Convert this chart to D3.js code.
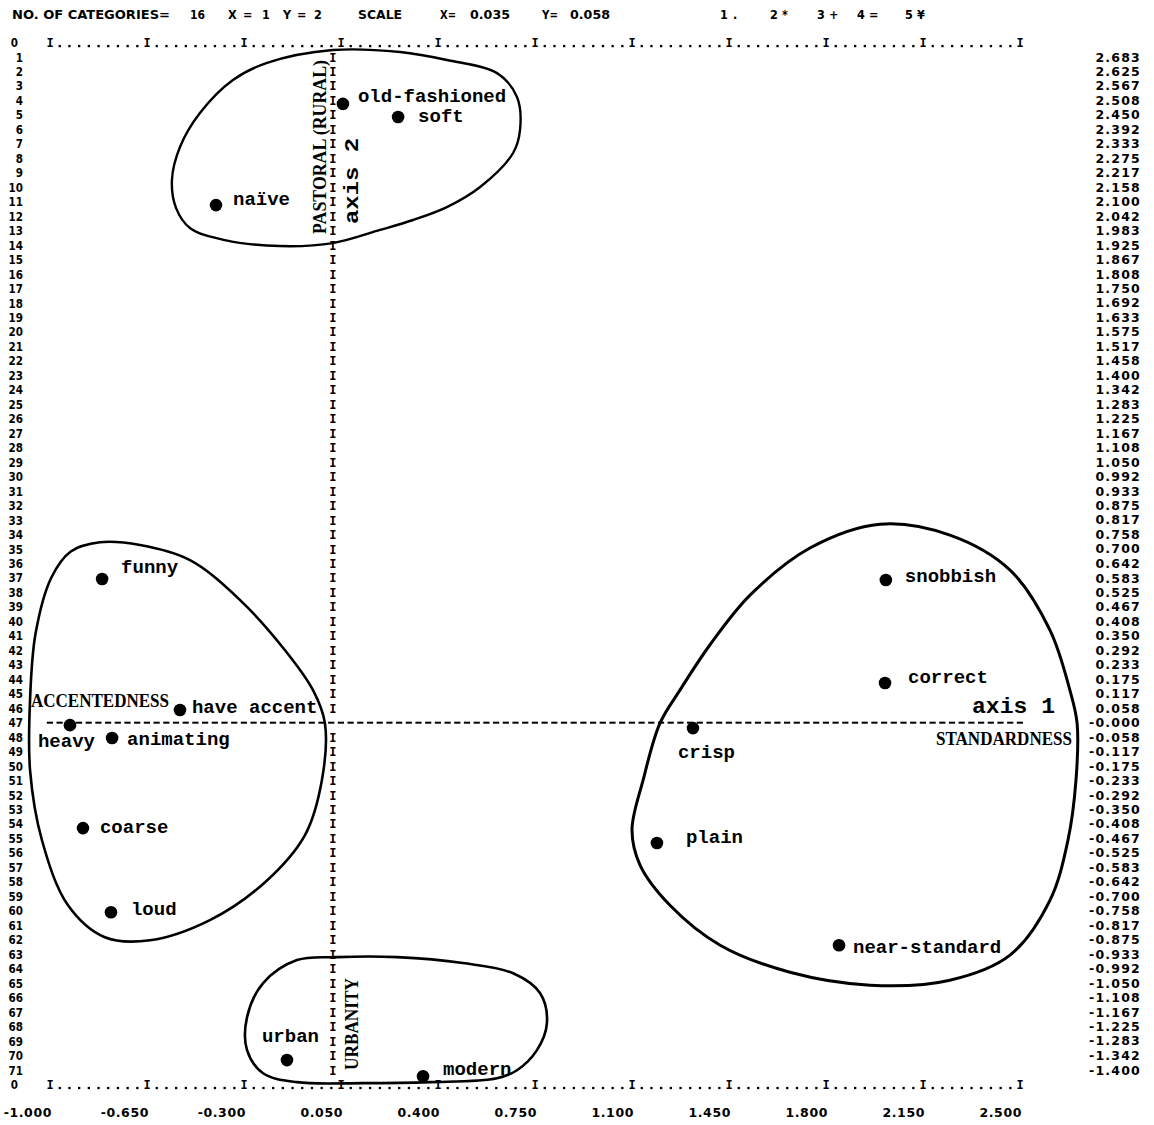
<!DOCTYPE html>
<html><head><meta charset="utf-8">
<script src="https://cdn.jsdelivr.net/npm/d3@7"></script>
<style>body{margin:0;background:#fff}svg{display:block}</style>
</head><body>
<svg id="chart" width="1154" height="1125"></svg>
<script>
// ---------- data ----------
const categories = ["old-fashioned","soft","naïve","funny","have accent","heavy","animating","coarse","loud","urban","modern","crisp","plain","snobbish","correct","near-standard"];
const axis1Values = [0.057,0.256,-0.401,-0.812,-0.531,-0.928,-0.776,-0.881,-0.780,-0.145,0.346,1.320,1.190,2.016,2.013,1.847];
const axis2Values = [2.494,2.441,2.086,0.579,0.051,-0.010,-0.062,-0.425,-0.764,-1.360,-1.425,-0.022,-0.485,0.575,0.160,-0.897];

const xTickValues = [-1.0,-0.65,-0.3,0.05,0.4,0.75,1.1,1.45,1.8,2.15,2.5];
const xTickLabels = ["-1.000","-0.650","-0.300","0.050","0.400","0.750","1.100","1.450","1.800","2.150","2.500"];
const yTickLabels = ["2.683","2.625","2.567","2.508","2.450","2.392","2.333","2.275","2.217","2.158","2.100","2.042","1.983","1.925","1.867","1.808","1.750","1.692","1.633","1.575","1.517","1.458","1.400","1.342","1.283","1.225","1.167","1.108","1.050","0.992","0.933","0.875","0.817","0.758","0.700","0.642","0.583","0.525","0.467","0.408","0.350","0.292","0.233","0.175","0.117","0.058","-0.000","-0.058","-0.117","-0.175","-0.233","-0.292","-0.350","-0.408","-0.467","-0.525","-0.583","-0.642","-0.700","-0.758","-0.817","-0.875","-0.933","-0.992","-1.050","-1.108","-1.167","-1.225","-1.283","-1.342","-1.400"];

const headerTokens = ["NO. OF CATEGORIES=","16","X","=","1","Y","=","2","SCALE","X=","0.035","Y=","0.058","1",".","2","*","3","+","4","=","5","¥"];
const clusterNames = ["PASTORAL (RURAL)","ACCENTEDNESS","URBANITY","STANDARDNESS"];
const axisNames = ["axis 1","axis 2"];

// hand-drawn cluster outlines (axis1, axis2 units)
const pastoralOutline = [[0.021,2.711],[0.263,2.703],[0.432,2.671],[0.613,2.618],[0.685,2.522],[0.696,2.389],[0.671,2.296],[0.552,2.159],[0.432,2.078],[0.310,2.026],[0.191,1.986],[0.021,1.933],[-0.170,1.921],[-0.369,1.945],[-0.495,1.994],[-0.545,2.074],[-0.560,2.187],[-0.531,2.320],[-0.459,2.457],[-0.340,2.590],[-0.217,2.659]];
const accentOutline = [[-0.820,0.727],[-0.675,0.716],[-0.495,0.655],[-0.314,0.494],[-0.152,0.292],[-0.051,0.131],[-0.008,-0.002],[-0.019,-0.232],[-0.080,-0.453],[-0.224,-0.643],[-0.423,-0.796],[-0.639,-0.877],[-0.802,-0.865],[-0.935,-0.736],[-1.029,-0.474],[-1.072,-0.191],[-1.072,0.091],[-1.052,0.360],[-0.995,0.585],[-0.925,0.690]];
const urbanOutline = [[0.036,-0.945],[0.252,-0.945],[0.490,-0.969],[0.671,-1.010],[0.768,-1.090],[0.793,-1.211],[0.757,-1.320],[0.685,-1.401],[0.613,-1.433],[0.371,-1.449],[0.129,-1.453],[-0.109,-1.449],[-0.231,-1.413],[-0.289,-1.320],[-0.289,-1.187],[-0.231,-1.050],[-0.109,-0.957]];
const standardOutline = [[1.995,0.800],[2.247,0.756],[2.464,0.615],[2.608,0.373],[2.680,0.131],[2.706,-0.002],[2.702,-0.232],[2.673,-0.474],[2.608,-0.716],[2.464,-0.937],[2.247,-1.038],[1.959,-1.058],[1.670,-1.006],[1.418,-0.897],[1.237,-0.736],[1.129,-0.574],[1.100,-0.433],[1.140,-0.232],[1.201,-0.002],[1.273,0.131],[1.381,0.313],[1.526,0.514],[1.742,0.704]];

// ---------- layout (not data) ----------
const headerX = [12,190,228,243,262,283,297,314,358,440,470,542,570,720,733,770,782,817,829,857,869,905,917];
const headerW = {0:158,1:15,8:44,9:16,10:40,11:16,12:40};
const labelOffsets = {"old-fashioned":[15,-2],"soft":[20,5],"naïve":[17,0],"funny":[19,-6],"have accent":[12,3],"heavy":[-32,22],"animating":[15,7],"coarse":[17,5],"loud":[20,3],"urban":[-25,-18],"modern":[20,-1],"crisp":[-15,30],"plain":[29,0],"snobbish":[19,2],"correct":[23,0],"near-standard":[14,8]};

const svg = d3.select("#chart");
svg.append("rect").attr("width",1154).attr("height",1125).attr("fill","#fff");

const x = d3.scaleLinear().domain([-1.0, 2.5]).range([50, 1020]);
const y = d3.scaleLinear().domain([2.683, -1.400]).range([57, 1070]);
const rowStep = (2.683 + 1.400) / 70;
const colStep = 0.035;
const rowY = r => y(2.683 - (r - 1) * rowStep);
const colX = c => x(-1 + c * colStep);

const printFont = "'DejaVu Sans Condensed','DejaVu Sans',sans-serif";
const monoFont = "'Liberation Mono','Courier New',monospace";
const serifFont = "'Liberation Serif','Times New Roman',serif";

// header
svg.append("g").selectAll("text").data(headerTokens).join("text")
  .attr("x",(d,i)=>headerX[i]).attr("y",19)
  .attr("font-family",printFont).attr("font-stretch","condensed")
  .attr("font-weight","bold").attr("font-size",12.5)
  .each(function(d,i){ if(headerW[i]) d3.select(this).attr("textLength",headerW[i]).attr("lengthAdjust","spacingAndGlyphs"); })
  .text(d=>d);

// row numbers (left)
const rows = d3.range(0, 73);
svg.append("g").selectAll("text").data(rows).join("text")
  .attr("x", r => (r===0||r===72) ? 18 : 23)
  .attr("y", r => rowY(r) + 4.5)
  .attr("text-anchor","end")
  .attr("font-family",printFont).attr("font-stretch","condensed")
  .attr("font-weight","bold").attr("font-size",11.5)
  .text(r => r===72 ? "0" : String(r));

// right value labels
svg.append("g").selectAll("text").data(yTickLabels).join("text")
  .attr("x",1141).attr("y",d=>y(+d)+4.5)
  .attr("text-anchor","end")
  .attr("font-family","'DejaVu Sans',sans-serif").attr("font-weight","bold")
  .attr("font-size",12.5).attr("letter-spacing",1.2)
  .text(d=>d);

// top & bottom tick rows  I.........I
[0,72].forEach(r=>{
  const g = svg.append("g");
  const yy = rowY(r);
  const cols = d3.range(0,101);
  g.selectAll("text").data(cols.filter(c=>c%10===0)).join("text")
    .attr("x",c=>colX(c)).attr("y",yy+4.5).attr("text-anchor","middle")
    .attr("font-family","'DejaVu Sans Mono',monospace").attr("font-weight","bold").attr("font-size",12)
    .text("I");
  g.selectAll("rect").data(cols.filter(c=>c%10!==0)).join("rect")
    .attr("x",c=>colX(c)-1.1).attr("y",yy+2.4).attr("width",2.3).attr("height",2.3).attr("fill","#000");
});

// bottom axis labels
svg.append("g").selectAll("text").data(xTickValues).join("text")
  .attr("x",d=>x(d)+2).attr("y",1117).attr("text-anchor","end")
  .attr("font-family","'DejaVu Sans',sans-serif").attr("font-weight","bold")
  .attr("font-size",12.5).attr("letter-spacing",0.6)
  .text((d,i)=>xTickLabels[i]);

// vertical axis 2 (column of I's)
const zeroCol = Math.round((0 - (-1)) / colStep);
svg.append("g").selectAll("text").data(d3.range(1,72).filter(r=>r!==47)).join("text")
  .attr("x",colX(zeroCol)+1.5).attr("y",r=>rowY(r)+4.5).attr("text-anchor","middle")
  .attr("font-family","'DejaVu Sans Mono',monospace").attr("font-weight","bold").attr("font-size",12)
  .text("I");

// horizontal axis 1 (dashes)
const zeroRow = Math.round((2.683 - 0) / rowStep) + 1;
svg.append("g").selectAll("rect").data(d3.range(0,101)).join("rect")
  .attr("x",c=>colX(c)-3.2).attr("y",rowY(zeroRow)-1).attr("width",6.2).attr("height",2).attr("fill","#000");

// cluster outlines
const outline = d3.line().x(d=>x(d[0])).y(d=>y(d[1])).curve(d3.curveCatmullRomClosed.alpha(0.5));
[[pastoralOutline,2.4],[accentOutline,2.6],[urbanOutline,2.6],[standardOutline,3]].forEach(([o,w])=>{
  svg.append("path").attr("d",outline(o)).attr("fill","none").attr("stroke","#000").attr("stroke-width",w).attr("stroke-linejoin","round");
});

// cluster names
const serif = sel => sel.attr("font-family",serifFont).attr("font-weight","bold").attr("font-size",18).attr("lengthAdjust","spacingAndGlyphs");
svg.append("text").call(serif).attr("transform","translate(326,234) rotate(-90)").attr("textLength",174).text(clusterNames[0]);
svg.append("text").call(serif).attr("x",31).attr("y",707).attr("textLength",138).text(clusterNames[1]);
svg.append("text").call(serif).attr("transform","translate(358,1070) rotate(-90)").attr("textLength",92).text(clusterNames[2]);
svg.append("text").call(serif).attr("x",936).attr("y",745).attr("textLength",136).text(clusterNames[3]);

// axis names
svg.append("text").attr("x",972).attr("y",713).attr("font-family",monoFont).attr("font-weight","bold")
  .attr("font-size",22).attr("textLength",83).attr("lengthAdjust","spacingAndGlyphs").text(axisNames[0]);
svg.append("text").attr("transform","translate(358,224) rotate(-90)").attr("font-family",monoFont).attr("font-weight","bold")
  .attr("font-size",21).attr("textLength",86).attr("lengthAdjust","spacingAndGlyphs").text(axisNames[1]);

// points
const pts = categories.map((c,i)=>({name:c, a1:axis1Values[i], a2:axis2Values[i]}));
svg.append("g").selectAll("circle").data(pts).join("circle")
  .attr("cx",d=>x(d.a1)).attr("cy",d=>y(d.a2)).attr("r",6.3).attr("fill","#000");
svg.append("g").selectAll("text").data(pts).join("text")
  .attr("x",d=>x(d.a1)+labelOffsets[d.name][0])
  .attr("y",d=>y(d.a2)+labelOffsets[d.name][1])
  .attr("font-family",monoFont).attr("font-weight","bold").attr("font-size",19)
  .text(d=>d.name);
</script>
</body></html>
